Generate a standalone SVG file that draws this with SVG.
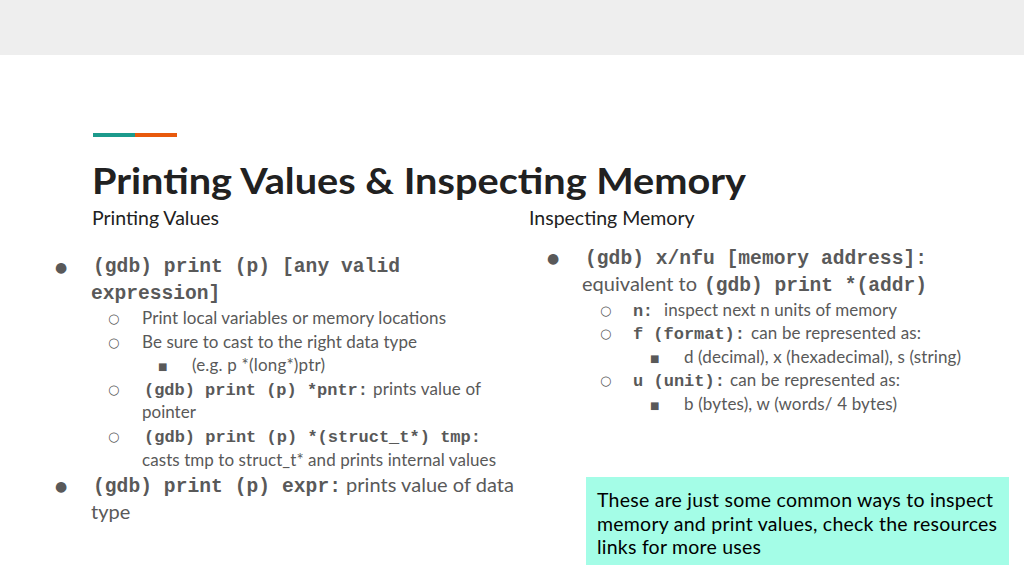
<svg xmlns="http://www.w3.org/2000/svg" width="1024" height="576" viewBox="0 0 1024 576">
<style>
.t{font-family:Lato,"Open Sans",sans-serif;fill:#595959}
.m{font-family:"Liberation Mono","DejaVu Sans Mono",monospace;font-weight:bold;fill:#595959}
.b{font-family:"DejaVu Sans",sans-serif;fill:#595959}
</style>
<rect width="1024" height="576" fill="#fff"/>
<rect width="1024" height="55" fill="#eeeeee"/>
<rect x="93" y="133" width="42" height="4" fill="#1c9a8c"/>
<rect x="135" y="133" width="42" height="4" fill="#e8590c"/>
<text x="92" y="194" font-family="Lato,sans-serif" font-weight="bold" font-size="37" fill="#212121" textLength="654" lengthAdjust="spacingAndGlyphs">Printing Values &amp; Inspecting Memory</text>
<text x="92" y="225" class="t" font-size="19.5" style="fill:#212121">Printing Values</text>
<text x="529" y="225" class="t" font-size="19.5" style="fill:#212121">Inspecting Memory</text>

<g font-size="19.6">
<text x="55" y="272" class="b" font-size="14">●</text>
<text x="93" y="272" class="m" textLength="307">(gdb) print (p) [any valid</text>
<text x="91" y="299" class="m">expression]</text>
</g>
<g font-size="17">
<text x="108" y="323" class="b" font-size="13">○</text>
<text x="142" y="324" class="t" textLength="304">Print local variables or memory locations</text>
<text x="108" y="347" class="b" font-size="13">○</text>
<text x="142" y="348" class="t" textLength="275">Be sure to cast to the right data type</text>
<text x="158" y="370" class="b" font-size="10">■</text>
<text x="192" y="371" class="t" textLength="133">(e.g. p *(long*)ptr)</text>
<text x="108" y="394" class="b" font-size="13">○</text>
<text x="144" y="395" class="m" textLength="224">(gdb) print (p) *pntr:</text><text x="373" y="395" class="t" textLength="108">prints value of</text>
<text x="142" y="418" class="t">pointer</text>
<text x="108" y="441" class="b" font-size="13">○</text>
<text x="144" y="442" class="m" textLength="337">(gdb) print (p) *(struct_t*) tmp:</text>
<text x="142" y="466" class="t" textLength="354">casts tmp to struct_t* and prints internal values</text>
</g>
<text x="55" y="491" class="b" font-size="14">●</text>
<text x="93" y="492" class="m" font-size="19.6" textLength="248">(gdb) print (p) expr:</text><text x="346" y="492" class="t" font-size="20" textLength="168">prints value of data</text>
<text x="91" y="519" class="t" font-size="20">type</text>

<text x="547" y="263" class="b" font-size="14">●</text>
<text x="585" y="264" class="m" font-size="19.6" textLength="342">(gdb) x/nfu [memory address]:</text>
<text x="582" y="291" class="t" font-size="20" textLength="115">equivalent to</text><text x="704" y="291" class="m" font-size="19.6" textLength="223">(gdb) print *(addr)</text>
<g font-size="17">
<text x="600" y="315" class="b" font-size="13">○</text>
<text x="633" y="316" class="m" textLength="20">n:</text><text x="664" y="316" class="t" textLength="233">inspect next n units of memory</text>
<text x="600" y="338" class="b" font-size="13">○</text>
<text x="633" y="339" class="m" textLength="112">f (format):</text><text x="751" y="339" class="t" textLength="170">can be represented as:</text>
<text x="650" y="362" class="b" font-size="10">■</text>
<text x="684" y="363" class="t" textLength="277">d (decimal), x (hexadecimal), s (string)</text>
<text x="600" y="385" class="b" font-size="13">○</text>
<text x="633" y="386" class="m" textLength="92">u (unit):</text><text x="730" y="386" class="t" textLength="170">can be represented as:</text>
<text x="650" y="409" class="b" font-size="10">■</text>
<text x="684" y="410" class="t" textLength="213">b (bytes), w (words/ 4 bytes)</text>
</g>

<g id="note">
<rect x="586" y="477" width="423" height="88" fill="#a4fde7"/>
<text x="597" y="507" font-family="Lato,sans-serif" font-size="19.5" fill="#000" textLength="396">These are just some common ways to inspect</text>
<text x="597" y="531" font-family="Lato,sans-serif" font-size="19.5" fill="#000" textLength="400">memory and print values, check the resources</text>
<text x="597" y="554" font-family="Lato,sans-serif" font-size="19.5" fill="#000" textLength="164">links for more uses</text>
</g>
</svg>
